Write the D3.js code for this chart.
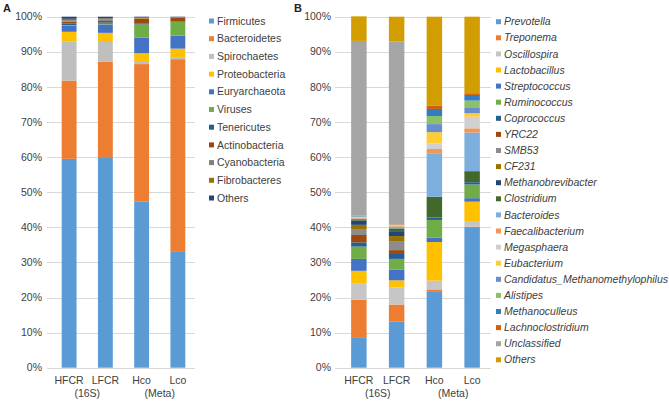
<!DOCTYPE html>
<html>
<head>
<meta charset="utf-8">
<script src="https://cdn.jsdelivr.net/npm/d3@7"></script>
<style>
  body { margin: 0; background: #fff; }
  text { font-family: "Liberation Sans", Arial, sans-serif; }
</style>
</head>
<body>
<div id="chart"></div>
<script>
// ---------- data ----------
const samples = ["HFCR", "LFCR", "Hco", "Lco"]
const groupLabels = ["(16S)", "(Meta)"]
const yTicks = [0, 10, 20, 30, 40, 50, 60, 70, 80, 90, 100]

// Panel A - phylum level (%), order is bottom -> top
const phyla = ["Firmicutes", "Bacteroidetes", "Spirochaetes", "Proteobacteria", "Euryarchaeota",
    "Viruses", "Tenericutes", "Actinobacteria", "Cyanobacteria", "Fibrobacteres", "Others"]
const phylaColors = ["#5b9bd5", "#ed7d31", "#bfbfbf", "#ffc000", "#4472c4",
    "#70ad47", "#255e91", "#9e480e", "#7f7f7f", "#997300", "#264478"]
const hfcrPhyla = [59.5, 22.3, 11.2, 2.7, 1.7, 0.2, 0.5, 0.5, 0.4, 0.4, 0.6]
const lfcrPhyla = [60.0, 27.2, 5.6, 2.6, 2.4, 0.2, 0.4, 0.4, 0.4, 0.3, 0.5]
const hcoPhyla  = [47.3, 39.2, 0.6, 2.5, 4.4, 3.8, 0.2, 1.4, 0.1, 0.3, 0.2]
const lcoPhyla  = [33.2, 54.7, 0.6, 2.4, 3.7, 3.9, 0.1, 1.1, 0.1, 0.1, 0.1]

// Panel B - genus level (%)
const genera = ["Prevotella", "Treponema", "Oscillospira", "Lactobacillus", "Streptococcus",
    "Ruminococcus", "Coprococcus", "YRC22", "SMB53", "CF231", "Methanobrevibacter",
    "Clostridium", "Bacteroides", "Faecalibacterium", "Megasphaera", "Eubacterium",
    "Candidatus_Methanomethylophilus", "Alistipes", "Methanoculleus", "Lachnoclostridium",
    "Unclassified", "Others"]
const generaColors = ["#5b9bd5", "#ed7d31", "#c6c6c6", "#ffc000", "#4472c4",
    "#70ad47", "#255e91", "#9e480e", "#8c8c8c", "#997300", "#264478",
    "#43682b", "#7cafdd", "#f1975a", "#d0d0d0", "#ffcd33",
    "#698ed0", "#8cc168", "#327dc2", "#d26012",
    "#a5a5a5", "#d19d00"]
const hfcrGenera = [8.7, 10.7, 4.7, 3.5, 3.4, 3.5, 1.2, 2.1, 1.7, 1.2, 1.2,
    0.4, 0.2, 0.2, 0.1, 0.1, 0.1, 0.1, 0.1, 0.1, 49.8, 7.0]
const lfcrGenera = [13.1, 4.9, 4.9, 2.0, 3.1, 3.0, 1.4, 1.1, 2.4, 1.6, 1.4,
    0.8, 0.5, 0.2, 0.1, 0.1, 0.1, 0.1, 0.0, 0.1, 52.1, 7.0]
const hcoGenera  = [21.8, 0.5, 2.5, 11.0, 1.3, 5.0, 0.6, 0.0, 0.0, 0.0, 0.1,
    5.9, 12.4, 1.2, 1.6, 3.2, 2.3, 2.3, 2.0, 0.9, 0.0, 25.4]
const lcoGenera  = [39.8, 0.4, 1.6, 5.5, 1.0, 3.9, 0.6, 0.0, 0.0, 0.0, 0.1,
    3.1, 11.0, 1.2, 3.3, 1.0, 1.7, 1.9, 1.6, 0.5, 0.0, 21.8]


const width = 669, height = 402
const textColor = "#404040"
const fontSize = 10.5

const svg = d3.select("#chart")
    .append("svg")
    .attr("width", width)
    .attr("height", height)
    .style("background-color", "#fff")

const y = d3.scaleLinear().domain([0, 100]).range([367.7, 16.7])

// turns per-sample arrays into rows for d3.stack
const makeRows = (keys, cols) => samples.map((s, i) => {
    let row = {sample: s}
    keys.forEach((k, j) => row[k] = cols[i][j])
    return row
})


let drawPanel = (opt) => {
    const g = svg.append("g")

    let x = d3.scaleBand().domain(samples).range(opt.band).paddingInner(0.59).paddingOuter(0.295)

    // gridlines
    g.selectAll(".grid")
        .data(yTicks)
        .enter()
        .append("line")
            .attr("x1", opt.grid[0])
            .attr("x2", opt.grid[1])
            .attr("y1", d => Math.round(y(d)) + 0.5)
            .attr("y2", d => Math.round(y(d)) + 0.5)
            .attr("stroke", "#d9d9d9")
            .attr("stroke-width", 1)

    // y tick labels
    g.selectAll(".ylab")
        .data(yTicks)
        .enter()
        .append("text")
            .attr("x", opt.labelX)
            .attr("y", d => y(d))
            .attr("dy", "0.35em")
            .attr("text-anchor", "end")
            .style("font-size", fontSize + "px")
            .style("fill", textColor)
            .text(d => d + "%")

    // stacked bars
    let rows = makeRows(opt.keys, opt.values)
    let series = d3.stack().keys(opt.keys)(rows)

    g.selectAll(".layer")
        .data(series)
        .enter()
        .append("g")
            .attr("fill", (d, i) => opt.colors[i])
        .selectAll("rect")
        .data(d => d)
        .enter()
        .append("rect")
            .attr("x", d => x(d.data.sample))
            .attr("y", d => y(d[1]))
            .attr("width", x.bandwidth())
            .attr("height", d => Math.max(0, y(d[0]) - y(d[1])))

    // x labels
    g.selectAll(".xlab")
        .data(samples)
        .enter()
        .append("text")
            .attr("x", d => x(d) + x.bandwidth() / 2)
            .attr("y", 384)
            .attr("text-anchor", "middle")
            .style("font-size", fontSize + "px")
            .style("fill", textColor)
            .text(d => d)

    g.selectAll(".glab")
        .data(groupLabels)
        .enter()
        .append("text")
            .attr("x", (d, i) => (x(samples[i * 2]) + x(samples[i * 2 + 1]) + x.bandwidth()) / 2)
            .attr("y", 397)
            .attr("text-anchor", "middle")
            .style("font-size", fontSize + "px")
            .style("fill", textColor)
            .text(d => d)

    // legend (top item = first key)
    let leg = g.selectAll(".leg")
        .data(opt.keys)
        .enter()
        .append("g")
            .attr("transform", (d, i) => "translate(" + opt.legendX + "," + (opt.legendY + i * opt.legendStep) + ")")

    leg.append("rect")
        .attr("x", 0)
        .attr("y", -2.5)
        .attr("width", 5)
        .attr("height", 5)
        .attr("fill", (d, i) => opt.colors[i])

    leg.append("text")
        .attr("x", 8)
        .attr("dy", "0.35em")
        .style("font-size", fontSize + "px")
        .style("font-style", opt.italic ? "italic" : "normal")
        .style("fill", textColor)
        .text(d => d)

    // panel letter
    g.append("text")
        .attr("x", opt.letterX)
        .attr("y", 12)
        .style("font-size", "11px")
        .style("font-weight", "bold")
        .style("fill", "#222")
        .text(opt.letter)
}


drawPanel({
    letter: "A", letterX: 3,
    keys: phyla, colors: phylaColors,
    values: [hfcrPhyla, lfcrPhyla, hcoPhyla, lcoPhyla],
    band: [51, 196], grid: [47, 195], labelX: 42,
    legendX: 209, legendY: 21, legendStep: 17.7, italic: false
})

drawPanel({
    letter: "B", letterX: 294,
    keys: genera, colors: generaColors,
    values: [hfcrGenera, lfcrGenera, hcoGenera, lcoGenera],
    band: [340, 491], grid: [335, 491], labelX: 331,
    legendX: 496, legendY: 21.7, legendStep: 16.1, italic: true
})
</script>
</body>
</html>
